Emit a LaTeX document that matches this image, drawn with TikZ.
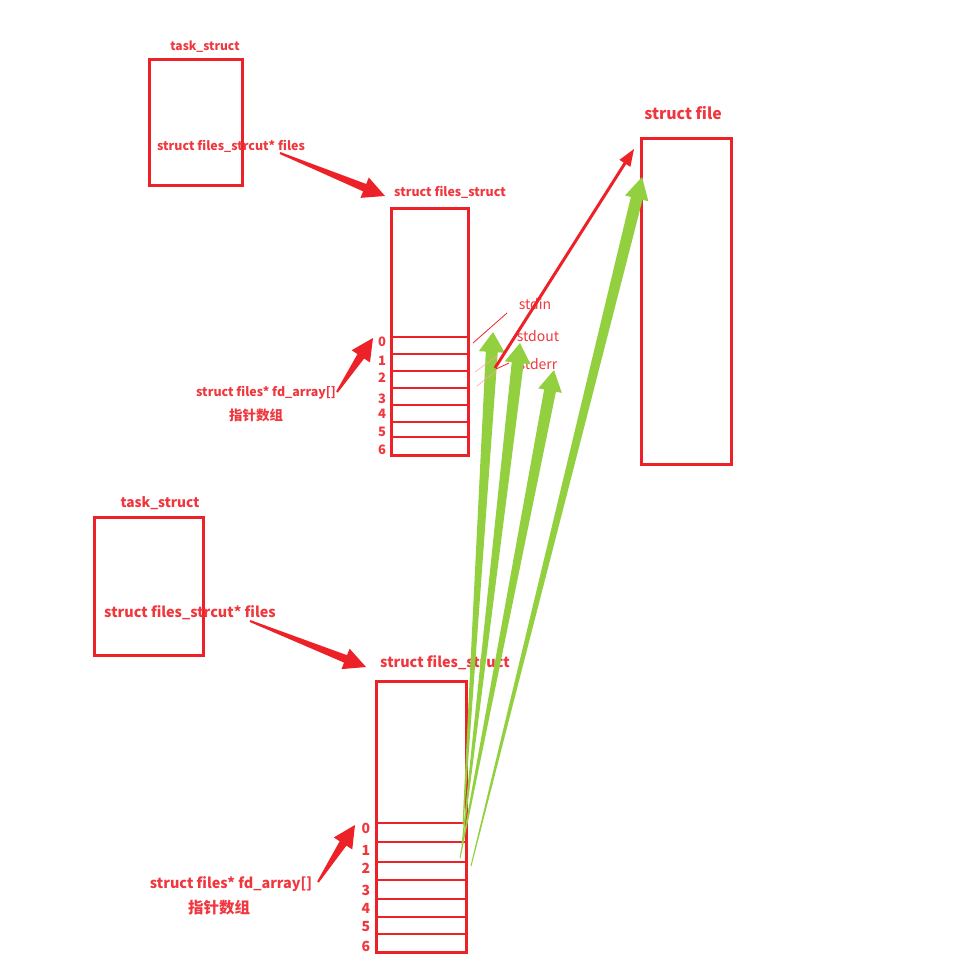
\documentclass[tikz,border=0pt]{standalone}
\usepackage{fontspec}
\setmainfont{Noto Sans CJK SC}
\usetikzlibrary{calc}
\definecolor{boxred}{RGB}{237,34,40}
\definecolor{txtred}{RGB}{240,55,62}
\definecolor{ptrgreen}{RGB}{146,208,64}
% tapered arrow: from, to, colour, tail half width, shaft half width, head half width, head length
\newcommand{\fatarrow}[7]{%
  \coordinate (hb) at ($(#2)!#7!(#1)$);
  \fill[#3] ($(#1)!#4!90:(#2)$) -- ($(hb)!#5!90:(#2)$) -- ($(hb)!#6!90:(#2)$) -- (#2)
    -- ($(hb)!#6!-90:(#2)$) -- ($(hb)!#5!-90:(#2)$) -- ($(#1)!#4!-90:(#2)$) -- cycle;
}
\begin{document}
\begin{tikzpicture}[x=1pt,y=-1pt,
    box/.style={draw=boxred,line width=3,rectangle,inner sep=0},
    slot/.style={draw=boxred,line width=2},
    lbl/.style={text=txtred,font=\bfseries\fontsize{12.4}{14}\selectfont,inner sep=0},
    biglbl/.style={text=txtred,font=\bfseries\fontsize{14.4}{16}\selectfont,inner sep=0},
    idx/.style={text=txtred,font=\bfseries\fontsize{13}{14}\selectfont,inner sep=0},
    stdlbl/.style={text=txtred,font=\fontsize{14}{16}\selectfont,inner sep=0}]
    \useasboundingbox (0,0) rectangle (976,980);
    % first process
    \node[box,minimum width=93,minimum height=126] (task1) at (195.5,122) {};
    \node[lbl,font=\bfseries\fontsize{12}{14}\selectfont] (task1lbl) at (205,47) {task\_struct};
    \node[lbl] (files1) at (231,146) {struct files\_strcut* files};
    \node[lbl] (fs1lbl) at (450,192) {struct files\_struct};
    \node[box,minimum width=77,minimum height=247] (fs1) at (429.5,331.5) {};
    \foreach \y in {337,354,371,388,405,422,437}
      \draw[slot] (fs1.west |- 0,\y) -- (fs1.east |- 0,\y);
    \foreach \i/\y in {0/342,1/361,2/378,3/399,4/414,5/432,6/450}
      \node[idx] (ia\i) at (382,\y) {\i};
    \node[lbl] (fd1) at (266,393) {struct files* fd\_array[]};
    \node[lbl,font=\bfseries\fontsize{13.5}{15}\selectfont] (fd1cn) at (256,415) {指针数组};
    % second process
    \node[box,minimum width=109,minimum height=138] (task2) at (148.5,586) {};
    \node[biglbl,font=\bfseries\fontsize{13.7}{15}\selectfont] (task2lbl) at (160,503) {task\_struct};
    \node[biglbl] (files2) at (190,613) {struct files\_strcut* files};
    \node[biglbl] (fs2lbl) at (445,663) {struct files\_struct};
    \node[box,minimum width=90,minimum height=271] (fs2) at (421,816.5) {};
    \foreach \y in {823,842,862,880,899,917,934}
      \draw[slot] (fs2.west |- 0,\y) -- (fs2.east |- 0,\y);
    \foreach \i/\y in {0/828,1/850,2/868,3/890,4/908,5/927,6/946}
      \node[idx,font=\bfseries\fontsize{14}{15}\selectfont] (ib\i) at (366,\y) {\i};
    \node[biglbl] (fd2) at (231,884) {struct files* fd\_array[]};
    \node[biglbl,font=\bfseries\fontsize{15.5}{17}\selectfont] (fd2cn) at (219,908) {指针数组};
    % struct file
    \node[box,minimum width=90,minimum height=326] (file) at (686,301) {};
    \node[lbl,font=\bfseries\fontsize{15.8}{17}\selectfont] (filelbl) at (683,113) {struct file};
    \node[stdlbl] (stdin) at (535,304) {stdin};
    \node[stdlbl] (stdout) at (538,336) {stdout};
    \node[stdlbl] (stderr) at (538,364) {stderr};
    % arrow ends
    \coordinate (a1s) at (280,153);  \coordinate (a1e) at (385,196);
    \coordinate (a2s) at (337,392);  \coordinate (a2e) at (373,338);
    \coordinate (a3s) at (250,621);  \coordinate (a3e) at (366,667);
    \coordinate (a4s) at (318,882);  \coordinate (a4e) at (355,825);
    \coordinate (g1s) at (463,825);  \coordinate (g1e) at (493,332);
    \coordinate (g2s) at (462,845);  \coordinate (g2e) at (520,343);
    \coordinate (g3s) at (460,858);  \coordinate (g3e) at (554,370);
    \coordinate (g4s) at (471,866);  \coordinate (g4e) at (642,177);
    \coordinate (rs) at (495,368);   \coordinate (re) at (634,149);
    \fatarrow{a1s}{a1e}{boxred}{1pt}{4pt}{11pt}{22pt}
    \fatarrow{a2s}{a2e}{boxred}{1pt}{4pt}{11pt}{22pt}
    \fatarrow{a3s}{a3e}{boxred}{1pt}{4pt}{11pt}{22pt}
    \fatarrow{a4s}{a4e}{boxred}{1pt}{4pt}{11pt}{22pt}
    \fatarrow{g1s}{g1e}{ptrgreen}{0.5pt}{6pt}{13pt}{20pt}
    \fatarrow{g2s}{g2e}{ptrgreen}{0.5pt}{6pt}{13pt}{20pt}
    \fatarrow{g3s}{g3e}{ptrgreen}{0.5pt}{6pt}{12pt}{21pt}
    \fatarrow{g4s}{g4e}{ptrgreen}{0.5pt}{6pt}{12pt}{22pt}
    \fatarrow{rs}{re}{boxred}{1.5pt}{1.5pt}{6.5pt}{17pt}
    % hand drawn ticks
    \draw[boxred,line width=0.8] (473,343) -- (507,313);
    \draw[boxred,line width=0.8] (496,369) -- (509,363);
    \draw[boxred!40,line width=0.6] (475,372) -- (497,356);
    \draw[boxred!40,line width=0.6] (477,386) -- (496,371);
\end{tikzpicture}
\end{document}
